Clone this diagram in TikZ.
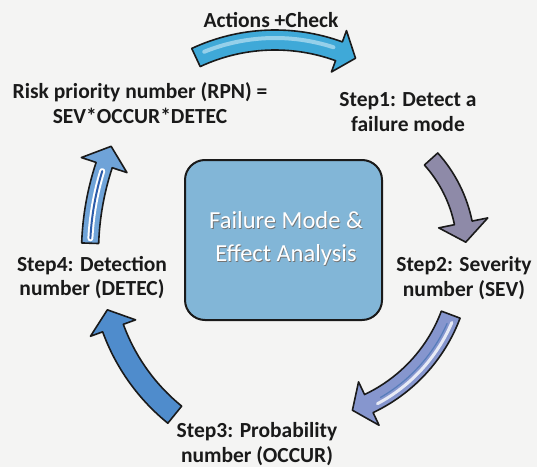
\documentclass[tikz,border=0pt]{standalone}
\usepackage{fontspec}
\setmainfont{Carlito}
\definecolor{paper}{HTML}{F4F4F3}
\definecolor{ink}{HTML}{1A1A1A}
\definecolor{boxblue}{HTML}{82B6D7}
\definecolor{topcyan}{HTML}{3FA9D8}
\definecolor{greyviolet}{HTML}{8E8AA8}
\definecolor{lavblue}{HTML}{8696CE}
\definecolor{midblue}{HTML}{4F8CCC}
\definecolor{lightblue}{HTML}{6FA3D8}
\definecolor{darkblue}{HTML}{2C5CAA}
% #1 centre, #2 radius, #3 tail angle, #4 head-base angle, #5 tip angle,
% #6 half body width, #7 half head width, #8 style
\newcommand{\fmeaArrow}[8]{%
  \begin{scope}[shift={(#1)}]
    \path[#8] (#3:{#2-#6}) arc[start angle=#3, end angle=#4, radius={#2-#6}]
      -- (#4:{#2-#7}) -- (#5:#2) -- (#4:{#2+#7}) -- (#4:{#2+#6})
      arc[start angle=#4, end angle=#3, radius={#2+#6}] -- cycle;
  \end{scope}}
% #1 centre, #2 radius, #3 start angle, #4 end angle, #5 style
\newcommand{\fmeaStripe}[5]{%
  \begin{scope}[shift={(#1)}]
    \draw[#5] (#3:#2) arc[start angle=#3, end angle=#4, radius=#2];
  \end{scope}}
\begin{document}
\begin{tikzpicture}[x=1pt,y=1pt,
  label/.style={font=\bfseries\fontsize{21.5}{24.5}\selectfont, text=ink,
    align=center, inner sep=0pt},
  boxtext/.style={font=\fontsize{24.5}{33}\selectfont, text=white,
    align=center, inner sep=0pt},
  arrowline/.style={draw=ink, line width=1.6pt, line join=round}]
\useasboundingbox (0,0) rectangle (537,467);
\fill[paper] (0,0) rectangle (537,467);

% centres of the arrow arcs
\coordinate (cTop) at (275,240);
\coordinate (cUR) at (330,217);
\coordinate (cLR) at (300,209);
\coordinate (cLL) at (300,207);
\coordinate (cUL) at (370,214);

% central box
\draw[fill=boxblue, draw=ink, line width=2pt, rounded corners=20pt]
  (185,147) rectangle (382,307);
\node[boxtext, text=black!55] at (286.8,227.7) {Failure Mode \&\\Effect Analysis};
\node[boxtext] (fmea) at (286,228.5) {Failure Mode \&\\Effect Analysis};

% labels
\node[label] (act) at (271,447) {Actions +Check};
\node[label] (rpn) at (140,364) {Risk priority number (RPN) =\\SEV*OCCUR*DETEC};
\node[label] (s1) at (408,355) {Step1: Detect a\\failure mode};
\node[label] (s2) at (464,189) {Step2: Severity\\number (SEV)};
\node[label] (s3) at (257,23) {Step3: Probability\\number (OCCUR)};
\node[label] (s4) at (92,189.5) {Step4: Detection\\number (DETEC)};

% top arrow (Actions + Check)
\fmeaArrow{cTop}{187}{115}{70}{64.5}{10}{22}{arrowline, fill=topcyan}
\fmeaStripe{cTop}{189}{112}{72}{white!45!topcyan, line width=4pt, line cap=round}

% Step1 -> Step2
\fmeaArrow{cUR}{136}{42}{11.5}{3.3}{9}{25}{arrowline, fill=greyviolet}

% Step2 -> Step3
\fmeaArrow{cLR}{161}{-20.6}{-64.7}{-71}{10}{24}{arrowline, fill=lavblue}
\fmeaStripe{cLR}{165}{-23}{-62}{white!80!lavblue, line width=3pt, line cap=round}
\fmeaStripe{cLR}{161}{-24}{-60}{darkblue!80, line width=1.2pt, line cap=round}

% Step3 -> Step4
\fmeaArrow{cLL}{199}{231}{200}{194.5}{11}{24}{arrowline, fill=midblue}

% Step4 -> RPN
\fmeaArrow{cUL}{280}{178}{161.7}{157.6}{8.5}{24}{arrowline, fill=lightblue}
\fmeaStripe{cUL}{280}{177}{163}{white, line width=6pt, line cap=round}
\fmeaStripe{cUL}{280}{177}{163}{darkblue, line width=2pt, line cap=round}
\end{tikzpicture}
\end{document}
